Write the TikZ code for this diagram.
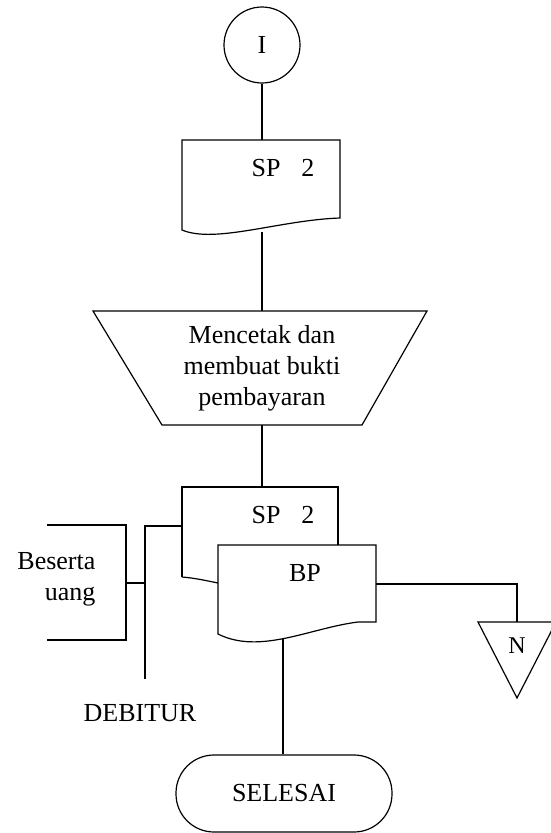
\documentclass[tikz,border=0pt]{standalone}
\usepackage{fontspec}
\setmainfont{Liberation Serif}
\begin{document}
\begin{tikzpicture}[x=1pt,y=-1pt,line width=1.2pt,line join=miter,
  every node/.style={font=\fontsize{26}{31}\selectfont,inner sep=0pt},
  connector/.style={draw},
  outline/.style={draw}]
\useasboundingbox (0,0) rectangle (550,833);

% start connector
\node[outline,circle,minimum size=76pt] (start) at (262,45) {I};

% first document: SP 2
\draw[outline] (182,140) -- (340,140) -- (340,218)
  .. controls (280,220) and (215,244) .. (182,230) -- cycle;
\node (doc1) at (283,168) {SP\hspace{0.8em}2};
\coordinate (doc1t) at (262,140);
\coordinate (doc1b) at (262,232);

% manual operation
\draw[outline] (93,311) -- (427,311) -- (362,425) -- (162,425) -- cycle;
\coordinate (mtop) at (262,311);
\coordinate (mbot) at (262,425);
\node[align=center] (manual) at (262,368) {Mencetak dan\\membuat bukti\\pembayaran};

% stacked documents: SP 2 behind BP
\draw[outline] (182,577) -- (182,487) -- (338,487) -- (338,545);
\draw[outline] (182,577) .. controls (195,578) and (208,581) .. (218,583);
\coordinate (sptop) at (262,487);
\coordinate (spleft) at (182,526);
\node (doc2) at (283,515) {SP\hspace{0.8em}2};

\draw[outline] (218,545) -- (376,545) -- (376,622) -- (358,622)
  .. controls (310,628) and (260,655) .. (218,634) -- cycle;
\node (bp) at (305,573) {BP};
\coordinate (bpr) at (376,584);
\coordinate (bpb) at (283,638);

% annotation
\draw[outline] (47,525) -- (126,525) -- (126,640) -- (47,640);
\node[align=right,anchor=east] (note) at (96,579) {Beserta\\uang};
\coordinate (noter) at (126,583);
\coordinate (jtop) at (145,526);
\coordinate (jmid) at (145,583);
\coordinate (jbot) at (145,679);
\node (debitur) at (140,713) {DEBITUR};

% off-line storage
\draw[outline] (478,622) -- (556,622) -- (517,698) -- cycle;
\coordinate (ntop) at (517,622);
\node[font=\fontsize{24}{28}\selectfont] (n) at (517,646) {N};

% terminator
\node[outline,rounded corners=38pt,minimum width=216pt,minimum height=77pt]
  (end) at (284,793.5) {SELESAI};

% connectors
\draw[connector] (start.south) -- (doc1t);
\draw[connector] (doc1b) -- (mtop);
\draw[connector] (mbot) -- (sptop);
\draw[connector] (bpb) -- (bpb |- end.north);
\draw[connector] (bpr) -| (ntop);
\draw[connector] (noter) -- (jmid);
\draw[connector] (jbot) -- (jtop) -- (spleft);
\end{tikzpicture}
\end{document}
